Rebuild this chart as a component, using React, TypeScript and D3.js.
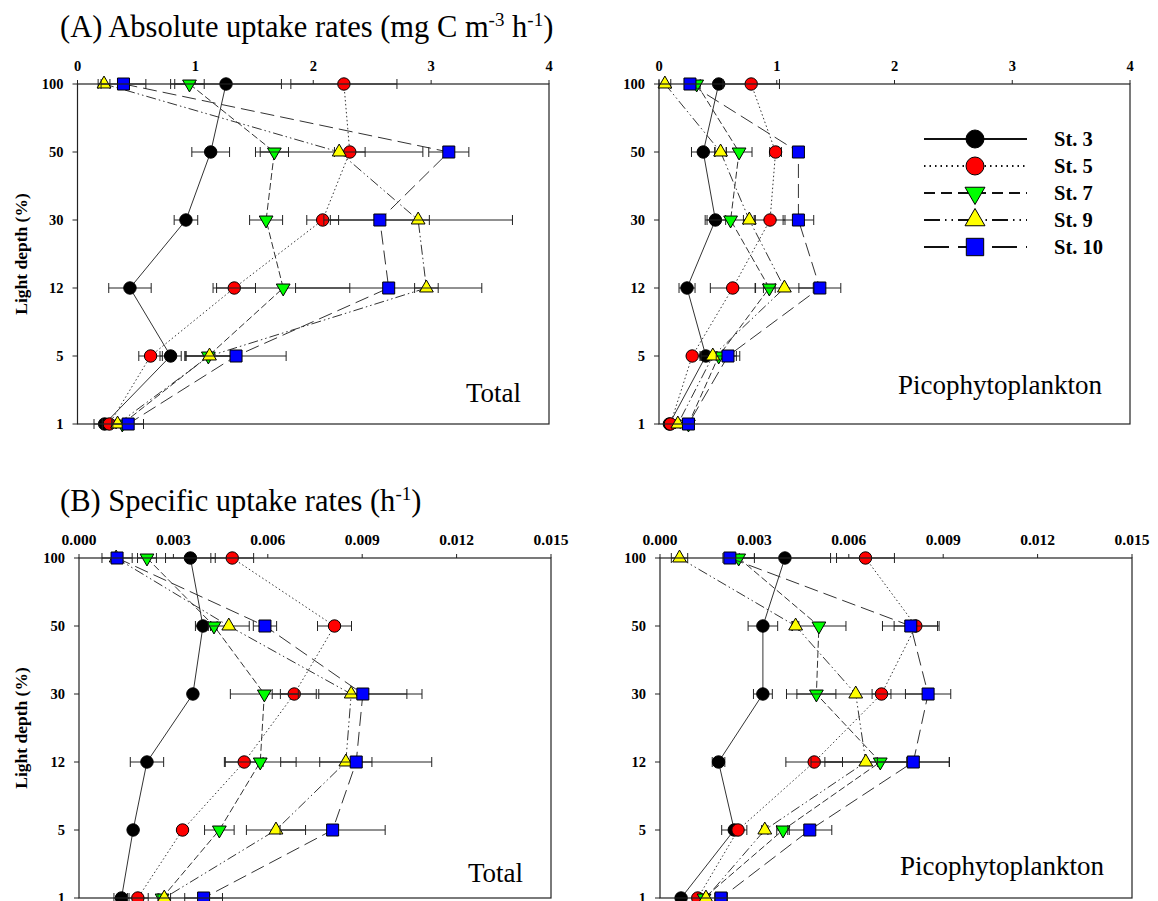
import React from "react";
import * as d3 from "d3";

// light depth levels (top to bottom) and stations
const depthLabels = ["100", "50", "30", "12", "5", "1"];
const stationNames = ["St. 3", "St. 5", "St. 7", "St. 9", "St. 10"];

// (A) absolute uptake rates, Total  [station][depth]
const absTotalMean = [
  [1.26, 1.13, 0.92, 0.445, 0.79, 0.23],
  [2.26, 2.31, 2.08, 1.33, 0.62, 0.27],
  [0.95, 1.67, 1.6, 1.745, 1.11, 0.38],
  [0.225, 2.22, 2.89, 2.96, 1.12, 0.34],
  [0.39, 3.15, 2.565, 2.64, 1.345, 0.43],
];
const absTotalSd = [
  [0.47, 0.16, 0.1, 0.18, 0.09, 0.09],
  [0.45, 0.13, 0.135, 0.18, 0.1, 0.06],
  [0.125, 0.12, 0.14, 0.565, 0.2, 0.05],
  [0.05, 0.71, 0.8, 0.1, 0.2, 0.05],
  [0.19, 0.17, 0.42, 0.79, 0.425, 0.13],
];

// (A) absolute uptake rates, Picophytoplankton
const absPicoMean = [
  [0.507, 0.376, 0.479, 0.238, 0.398, 0.088],
  [0.783, 0.99, 0.943, 0.626, 0.282, 0.097],
  [0.32, 0.68, 0.608, 0.937, 0.507, 0.25],
  [0.05, 0.523, 0.767, 1.065, 0.457, 0.16],
  [0.263, 1.184, 1.184, 1.366, 0.586, 0.25],
];
const absPicoSd = [
  [0.03, 0.1, 0.087, 0.068, 0.05, 0.02],
  [0.24, 0.05, 0.127, 0.19, 0.03, 0.02],
  [0.03, 0.11, 0.2, 0.05, 0.15, 0.02],
  [0.05, 0.05, 0.05, 0.245, 0.03, 0.02],
  [0.03, 0.03, 0.13, 0.178, 0.1, 0.03],
];

// (B) specific uptake rates, Total
const specTotalMean = [
  [0.00354, 0.00394, 0.00362, 0.00216, 0.00172, 0.00135],
  [0.00487, 0.00812, 0.00684, 0.00525, 0.00329, 0.00187],
  [0.00216, 0.00429, 0.00589, 0.00576, 0.00446, 0.00264],
  [0.00118, 0.00476, 0.00865, 0.00848, 0.00626, 0.00271],
  [0.00121, 0.00591, 0.00902, 0.00881, 0.00806, 0.00396],
];
const specTotalSd = [
  [0.00079, 0.00024, 0.0001, 0.00053, 0.0001, 0.00024],
  [0.00068, 0.00054, 0.0007, 0.0006, 0.0001, 0.00033],
  [0.0003, 0.0001, 0.00108, 0.00114, 0.00047, 0.0001],
  [0.0001, 0.00065, 0.00225, 0.00083, 0.00094, 0.0002],
  [0.00048, 0.00037, 0.0014, 0.0024, 0.00167, 0.0006],
];

// (B) specific uptake rates, Picophytoplankton
const specPicoMean = [
  [0.00397, 0.00327, 0.00327, 0.00186, 0.00236, 0.00067],
  [0.00653, 0.00813, 0.00704, 0.0049, 0.00248, 0.0012],
  [0.0025, 0.00505, 0.00497, 0.007, 0.00391, 0.0014],
  [0.00062, 0.00431, 0.00622, 0.00654, 0.00333, 0.00146],
  [0.00222, 0.00797, 0.00852, 0.00805, 0.00476, 0.00194],
];
const specPicoSd = [
  [0.00145, 0.00047, 0.0003, 0.0002, 0.0004, 0.0001],
  [0.00092, 0.00069, 0.0003, 0.0009, 0.0001, 0.0001],
  [0.0005, 0.00086, 0.00062, 0.0022, 0.0002, 0.0001],
  [0.00026, 0.0001, 0.0022, 0.0013, 0.0001, 0.0001],
  [0.0001, 0.0009, 0.00072, 0.00114, 0.0007, 0.0002],
];

const absTicks = [0, 1, 2, 3, 4];
const specTicks = [0, 0.003, 0.006, 0.009, 0.012, 0.015];

const serif = "'Liberation Serif', 'Times New Roman', serif";
const fills = ["#000000", "#ff0000", "#00ff00", "#ffff00", "#0000ff"];
const dashes = ["", "1.5 2.5", "7 3", "10 3 1.5 3 1.5 3", "14 6"];
const legendDashes = ["", "1.5 4", "11 6", "16 5 1.5 5 1.5 5", "25 9"];

function markerPath(i: number, big: boolean) {
  const k = big ? 2.1 : 1;
  if (i === 0 || i === 1) return d3.symbol(d3.symbolCircle, 121 * k)()!;
  if (i === 4) return d3.symbol(d3.symbolSquare, 144 * k)()!;
  return d3.symbol(d3.symbolTriangle, 82 * k)()!;
}

function Marker({ i, x, y, big = false }: { i: number; x: number; y: number; big?: boolean }) {
  const rot = i === 2 ? " rotate(180)" : "";
  return (
    <path
      d={markerPath(i, big)}
      transform={`translate(${x},${y})${rot}`}
      fill={fills[i]}
      stroke="#000"
      strokeWidth={1}
    />
  );
}

interface PanelProps {
  left: number;
  right: number;
  top: number;
  bottom: number;
  max: number;
  ticks: number[];
  fmt: (v: number) => string;
  xFont: number;
  means: number[][];
  sds: number[][];
  label: string;
  labelY: number;
  yTitle: boolean;
}

function Panel(p: PanelProps) {
  const x = d3.scaleLinear().domain([0, p.max]).range([p.left, p.right]);
  const y = d3.scalePoint<string>().domain(depthLabels).range([p.top, p.bottom]);
  const line = d3
    .line<number>()
    .x((d) => x(d))
    .y((_, j) => y(depthLabels[j])!);
  const axisColor = "#222";
  return (
    <g>
      {/* series: line, error bars, markers in station order */}
      {p.means.map((row, i) => (
        <g key={i}>
          <path
            d={line(row)!}
            fill="none"
            stroke="#333"
            strokeWidth={1}
            strokeDasharray={dashes[i] || undefined}
          />
          {row.map((m, j) => {
            const yy = y(depthLabels[j])!;
            const lo = x(m - p.sds[i][j]);
            const hi = x(m + p.sds[i][j]);
            return (
              <g key={j} stroke="#222" strokeWidth={1}>
                <line x1={lo} x2={hi} y1={yy} y2={yy} />
                <line x1={lo} x2={lo} y1={yy - 5} y2={yy + 5} />
                <line x1={hi} x2={hi} y1={yy - 5} y2={yy + 5} />
              </g>
            );
          })}
          {row.map((m, j) => (
            <Marker key={"m" + j} i={i} x={x(m)} y={y(depthLabels[j])!} />
          ))}
        </g>
      ))}
      <rect
        x={p.left}
        y={p.top}
        width={p.right - p.left}
        height={p.bottom - p.top}
        fill="none"
        stroke={axisColor}
        strokeWidth={1.2}
      />
      {p.ticks.map((t) => (
        <g key={t}>
          <line x1={x(t)} x2={x(t)} y1={p.top} y2={p.top - 4} stroke={axisColor} />
          <text
            x={x(t)}
            y={p.top - 13}
            textAnchor="middle"
            fontFamily={serif}
            fontWeight="bold"
            fontSize={p.xFont}
          >
            {p.fmt(t)}
          </text>
        </g>
      ))}
      {depthLabels.map((d) => (
        <g key={d}>
          <line x1={p.left - 5} x2={p.left} y1={y(d)} y2={y(d)} stroke={axisColor} />
          <text
            x={p.left - 14}
            y={y(d)}
            dy="0.35em"
            textAnchor="end"
            fontFamily={serif}
            fontWeight="bold"
            fontSize={14.5}
          >
            {d}
          </text>
        </g>
      ))}
      {p.yTitle && (
        <text
          transform={`translate(21,${(p.top + p.bottom) / 2}) rotate(-90)`}
          textAnchor="middle"
          dy="0.35em"
          fontFamily={serif}
          fontWeight="bold"
          fontSize={17.5}
        >
          Light depth (%)
        </text>
      )}
      <text
        x={p.right - 28}
        y={p.labelY}
        textAnchor="end"
        fontFamily={serif}
        fontSize={27}
      >
        {p.label}
      </text>
    </g>
  );
}

function Legend() {
  const rows = d3.scalePoint<string>().domain(stationNames).range([139, 247]);
  return (
    <g>
      {stationNames.map((s, i) => {
        const yy = rows(s)!;
        return (
          <g key={s}>
            <line
              x1={924}
              x2={1027}
              y1={yy}
              y2={yy}
              stroke="#111"
              strokeWidth={2}
              strokeDasharray={legendDashes[i] || undefined}
            />
            <Marker i={i} x={975} y={yy} big />
            <text
              x={1054}
              y={yy}
              dy="0.35em"
              fontFamily={serif}
              fontWeight="bold"
              fontSize={20.5}
            >
              {s}
            </text>
          </g>
        );
      })}
    </g>
  );
}

export default function App() {
  const fmtAbs = (v: number) => d3.format("d")(v);
  const fmtSpec = (v: number) => d3.format(".3f")(v);
  return (
    <svg
      width={1158}
      height={901}
      style={{ position: "absolute", left: 0, top: 0, background: "#fff" }}
    >
      <text x={60} y={37} fontFamily={serif} fontSize={30.5}>
        (A) Absolute uptake rates (mg C m
        <tspan dy={-11} fontSize={19}>-3</tspan>
        <tspan dy={11}> h</tspan>
        <tspan dy={-11} fontSize={19}>-1</tspan>
        <tspan dy={11}>)</tspan>
      </text>
      <text x={60} y={511} fontFamily={serif} fontSize={30.5}>
        (B) Specific uptake rates (h
        <tspan dy={-11} fontSize={19}>-1</tspan>
        <tspan dy={11}>)</tspan>
      </text>
      <Panel
        left={77.5}
        right={549}
        top={84}
        bottom={424}
        max={4}
        ticks={absTicks}
        fmt={fmtAbs}
        xFont={14.5}
        means={absTotalMean}
        sds={absTotalSd}
        label="Total"
        labelY={402}
        yTitle
      />
      <Panel
        left={659}
        right={1130}
        top={84}
        bottom={424}
        max={4}
        ticks={absTicks}
        fmt={fmtAbs}
        xFont={14.5}
        means={absPicoMean}
        sds={absPicoSd}
        label="Picophytoplankton"
        labelY={394}
        yTitle={false}
      />
      <Legend />
      <Panel
        left={79}
        right={551}
        top={558}
        bottom={898}
        max={0.015}
        ticks={specTicks}
        fmt={fmtSpec}
        xFont={15.5}
        means={specTotalMean}
        sds={specTotalSd}
        label="Total"
        labelY={882}
        yTitle
      />
      <Panel
        left={660}
        right={1132}
        top={558}
        bottom={898}
        max={0.015}
        ticks={specTicks}
        fmt={fmtSpec}
        xFont={15.5}
        means={specPicoMean}
        sds={specPicoSd}
        label="Picophytoplankton"
        labelY={875}
        yTitle={false}
      />
    </svg>
  );
}
